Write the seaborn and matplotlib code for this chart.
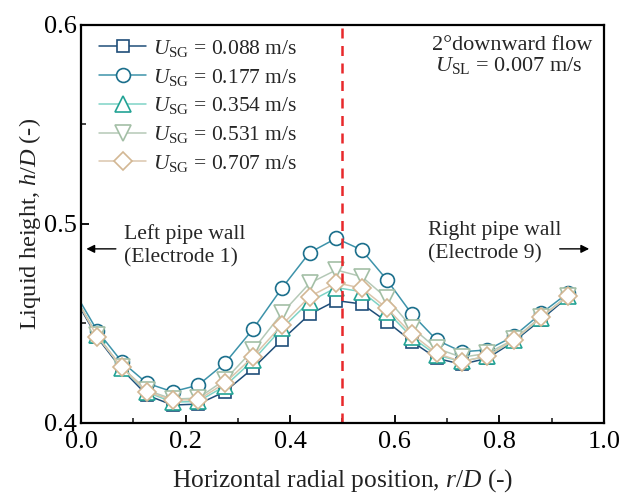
import matplotlib
matplotlib.use("Agg")
import matplotlib.pyplot as plt
import seaborn as sns
import numpy as np

sns.set_theme(style="white")
plt.rcParams['font.family'] = ['Liberation Serif', 'DejaVu Serif']
plt.rcParams['mathtext.fontset'] = 'custom'
plt.rcParams['mathtext.rm'] = 'Liberation Serif'
plt.rcParams['mathtext.it'] = 'Liberation Serif:italic'

# ---- data ----
r_pos = [-0.017, 0.031, 0.078, 0.126, 0.175, 0.224, 0.275, 0.329, 0.384, 0.437,
         0.488, 0.537, 0.585, 0.633, 0.680, 0.728, 0.777, 0.828, 0.880, 0.932]
usg_labels = ["0.088", "0.177", "0.354", "0.531", "0.707"]
h_088 = [0.465, 0.443, 0.427, 0.414, 0.409, 0.4095, 0.4157, 0.4275, 0.4417, 0.4546,
         0.4615, 0.4598, 0.4509, 0.4409, 0.4325, 0.4295, 0.4325, 0.441, 0.452, 0.4635]
h_177 = [0.468, 0.4464, 0.4308, 0.420, 0.4157, 0.419, 0.430, 0.4472, 0.4677, 0.4856,
         0.4928, 0.4869, 0.4719, 0.4546, 0.4417, 0.4358, 0.4367, 0.4437, 0.4551, 0.4655]
h_354 = [0.466, 0.444, 0.4275, 0.4155, 0.4105, 0.4108, 0.4185, 0.4315, 0.4475, 0.461,
         0.468, 0.466, 0.456, 0.443, 0.434, 0.431, 0.4335, 0.4415, 0.453, 0.464]
h_531 = [0.466, 0.444, 0.428, 0.4165, 0.412, 0.4125, 0.4216, 0.4367, 0.4551, 0.4702,
         0.4769, 0.4735, 0.4627, 0.4479, 0.4375, 0.433, 0.435, 0.442, 0.4535, 0.464]
h_707 = [0.466, 0.4434, 0.428, 0.4157, 0.4116, 0.4116, 0.420, 0.4333, 0.4492, 0.4635,
         0.4705, 0.4677, 0.4576, 0.4446, 0.435, 0.4308, 0.4337, 0.4417, 0.4531, 0.464]
series = [h_088, h_177, h_354, h_531, h_707]

markers = ['s', 'o', '^', 'v', 'D']
msizes = [9, 10, 11, 11, 9]
edge_colors = ['#1f4e79', '#1b6f8c', '#23a395', '#a3bfa6', '#d3b794']
line_colors = ['#1f4e79', '#3d93aa', '#7fd3c6', '#b5c9b7', '#dbc6ad']

fig = plt.figure(figsize=(6.21, 4.95), dpi=100)
ax = fig.add_axes([0.1304, 0.1455, 0.8422, 0.804])

for h, lab, m, ms, ec, lc in zip(series, usg_labels, markers, msizes, edge_colors, line_colors):
    sns.lineplot(x=r_pos, y=h, ax=ax, sort=False, color=lc, marker=m, markersize=ms,
                 markerfacecolor='white', markeredgecolor=ec, markeredgewidth=1.2,
                 linewidth=1.1, label=r'$U_{\rm SG}$ = ' + lab + ' m/s', errorbar=None)

ax.axvline(0.5, color='#e8282b', linestyle=(0, (4, 3)), linewidth=1.8)

ax.set_xlim(0, 1.0)
ax.set_ylim(0.4, 0.6)
ax.set_xticks([0.0, 0.2, 0.4, 0.6, 0.8, 1.0])
ax.set_xticks(np.arange(0.1, 1.0, 0.2), minor=True)
ax.set_yticks([0.4, 0.5, 0.6])
ax.set_yticks([0.45, 0.55], minor=True)
ax.xaxis.set_major_formatter(matplotlib.ticker.FormatStrFormatter('%.1f'))
ax.yaxis.set_major_formatter(matplotlib.ticker.FormatStrFormatter('%.1f'))
ax.tick_params(which='major', direction='in', length=6, width=1.3, labelsize=19,
               bottom=True, left=True, top=False, right=False, pad=3, colors='black')
ax.tick_params(axis='x', which='major', pad=6)
ax.tick_params(which='minor', direction='in', length=3.5, width=1.2,
               bottom=True, left=True, top=False, right=False)
for s in ax.spines.values():
    s.set_color('black')
    s.set_linewidth(1.6)

ax.set_xlabel(r'Horizontal radial position, $r/D$ (-)', fontsize=18.3, color='#222222')
ax.set_ylabel(r'Liquid height, $h/D$ (-)', fontsize=17.6, color='#222222')
ax.xaxis.set_label_coords(0.5, -0.112)
ax.yaxis.set_label_coords(-0.073, 0.5)

leg = ax.legend(loc='upper left', bbox_to_anchor=(0.01, 1.0), frameon=False, fontsize=15.5,
                handlelength=2.2, handletextpad=0.3, labelspacing=0.36, borderaxespad=0.2)

fig.text(432 / 621, 1 - 45 / 495, '2°downward flow', ha='left', va='center', fontsize=16)
fig.text(435 / 621, 1 - 66 / 495, r'$U_{\rm SL}$ = 0.007 m/s', ha='left', va='center', fontsize=16)

fig.text(124 / 621, 1 - 246 / 495, 'Left pipe wall\n(Electrode 1)', ha='left', va='center',
         fontsize=15.6, linespacing=1.28)
ax.annotate('', xy=(0.005, 0.4375), xycoords='axes fraction', xytext=(0.072, 0.4375),
            textcoords='axes fraction', arrowprops=dict(arrowstyle='-|>', color='black', lw=1.0,
                                                        mutation_scale=12))
fig.text(428 / 621, 1 - 242 / 495, 'Right pipe wall\n(Electrode 9)', ha='left', va='center',
         fontsize=15.6, linespacing=1.28)
ax.annotate('', xy=(0.977, 0.4375), xycoords='axes fraction', xytext=(0.91, 0.4375),
            textcoords='axes fraction', arrowprops=dict(arrowstyle='-|>', color='black', lw=1.0,
                                                        mutation_scale=12))

fig.savefig('out.png', dpi=100)
